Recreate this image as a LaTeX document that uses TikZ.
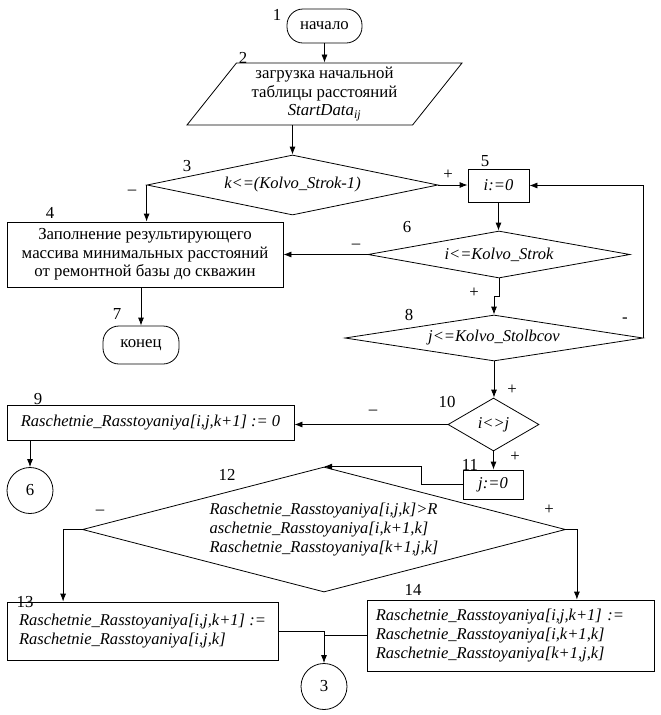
\documentclass[tikz,border=0pt]{standalone}
\usepackage{fontspec}
\setmainfont{Liberation Serif}
\usetikzlibrary{shapes.geometric,arrows.meta}

\begin{document}
\begin{tikzpicture}[x=0.75pt,y=-0.75pt,line width=0.6pt,
    >={Latex[length=6pt,width=4.5pt]},
    every node/.style={font=\fontsize{12.6pt}{14pt}\selectfont},
    formula/.style={font=\fontsize{12.4pt}{14pt}\selectfont\itshape},
    term/.style={rectangle,draw,rounded corners=12pt,inner sep=0pt},
    block/.style={rectangle,draw,inner sep=0pt},
    cond/.style={diamond,draw,inner sep=0pt,formula},
    io/.style={trapezium,draw,trapezium left angle=47.4,trapezium right angle=132.6,
        trapezium stretches body,inner sep=0pt,align=center},
    conn/.style={circle,draw,inner sep=0pt,minimum size=34.5pt},
    num/.style={inner sep=0pt}]
    \useasboundingbox (0,0) rectangle (661,715);

    % blocks
    \node[term,minimum width=56.25pt,minimum height=25.5pt] (start) at (324.5,26) {начало};
    \node[io,minimum width=206.25pt,minimum height=46.5pt] (load) at (324.5,94)
        {загрузка начальной\\таблицы расстояний\\\textit{StartData}\textsubscript{\textit{ij}}};
    \node[cond,minimum width=218.25pt,minimum height=45pt,shape aspect=4.85] (c3) at (292.5,185) {k<=(Kolvo\_Strok-1)};
    \node[block,minimum width=207pt,minimum height=48.75pt,align=center] (fill) at (145,254.5)
        {Заполнение результирующего\\массива минимальных расстояний\\от ремонтной базы до скважин};
    \node[block,formula,minimum width=45.75pt,minimum height=24.75pt] (b5) at (498.5,185.5) {i:=0};
    \node[cond,minimum width=196.5pt,minimum height=35.25pt,shape aspect=5.57] (c6) at (499,254.5) {i<=Kolvo\_Strok};
    \node[term,minimum width=57pt,minimum height=28.5pt] (stop) at (141,345) {конец};
    \node[cond,minimum width=223.5pt,minimum height=34.5pt,shape aspect=6.48] (c8) at (494,338) {j<=Kolvo\_Stolbcov};
    \node[block,formula,minimum width=215.25pt,minimum height=26.25pt] (b9) at (150.5,422.5) {Raschetnie\_Rasstoyaniya[i,j,k+1] := 0};
    \node[cond,minimum width=68.25pt,minimum height=39.75pt,shape aspect=1.72] (c10) at (493.5,424.5) {i<>j};
    \node[conn] (p6) at (30,490.5) {6};
    \node[block,formula,minimum width=45pt,minimum height=21.75pt] (b11) at (493,484.5) {j:=0};
    \node[cond,minimum width=362.25pt,minimum height=93.75pt,shape aspect=3.86,align=left] (c12) at (324,529.5)
        {Raschetnie\_Rasstoyaniya[i,j,k]>R\\aschetnie\_Rasstoyaniya[i,k+1,k]\\Raschetnie\_Rasstoyaniya[k+1,j,k]};
    \node[block,formula,minimum width=203.25pt,minimum height=43.5pt,align=left] (b13) at (142.5,631)
        {Raschetnie\_Rasstoyaniya[i,j,k+1] :=\\Raschetnie\_Rasstoyaniya[i,j,k]};
    \node[block,formula,minimum width=215.25pt,minimum height=53.25pt,text width=202pt,align=left] (b14) at (510.5,635.5)
        {Raschetnie\_Rasstoyaniya[i,j,k+1] :=\\Raschetnie\_Rasstoyaniya[i,k+1,k]\\Raschetnie\_Rasstoyaniya[k+1,j,k]};
    \node[conn] (p3) at (324,686.5) {3};

    % block numbers
    \node[num] (n1) at (277,15) {1};
    \node[num] (n2) at (243,58) {2};
    \node[num] (n3) at (187,166) {3};
    \node[num] (n4) at (50,213) {4};
    \node[num] (n5) at (485,161) {5};
    \node[num] (n6) at (407,227) {6};
    \node[num] (n7) at (117,314) {7};
    \node[num] (n8) at (409,315) {8};
    \node[num] (n9) at (38,399) {9};
    \node[num] (n10) at (447,402) {10};
    \node[num] (n11) at (470,465) {11};
    \node[num] (n12) at (227,475) {12};
    \node[num] (n13) at (25,602) {13};
    \node[num] (n14) at (413,590) {14};

    % branch signs
    \node[num] (s3no) at (132,192) {–};
    \node[num] (s3yes) at (448,175) {+};
    \node[num] (s6no) at (356,246) {–};
    \node[num] (s6yes) at (474,293) {+};
    \node[num] (s8no) at (625,320) {-};
    \node[num] (s8yes) at (512,390) {+};
    \node[num] (s10no) at (373,412) {–};
    \node[num] (s10yes) at (515,457) {+};
    \node[num] (s12no) at (100,512) {–};
    \node[num] (s12yes) at (549,510) {+};

    % connectors
    \draw[->] (start) -- (load);
    \draw[->] (c3.north |- load.south) -- (c3.north);
    \draw[->] (c3.east) -- (c3.east -| b5.west);
    \draw[->] (c3.west) -- (c3.west |- fill.north);
    \draw[->] (b5.south) -- (b5.south |- c6.north);
    \draw[->] (c6.west) -- (c6.west -| fill.east);
    \draw[->] (stop.north |- fill.south) -- (stop.north);
    \draw[->] (c6.south) -- ++(0,18) -| (c8.north);
    \draw[->] (c8.east) |- (b5.east);
    \draw[->] (c8.south) -- (c8.south |- c10.north);
    \draw[->] (c10.west) -- (c10.west -| b9.east);
    \draw[->] (p6.north |- b9.south) -- (p6.north);
    \draw[->] (c10.south) -- (c10.south |- b11.north);
    \draw[->] (b11.west) -- ++(-41,0) |- (c12.north);
    \draw[->] (c12.west) -- ++(-19,0) coordinate (lft) -- (lft |- b13.north);
    \draw[->] (c12.east) -- ++(11,0) coordinate (rgt) -- (rgt |- b14.north);
    \draw[->] (b13.east) -| (p3.north);
    \draw (b14.west) -- (b14.west -| p3.north);
\end{tikzpicture}
\end{document}
